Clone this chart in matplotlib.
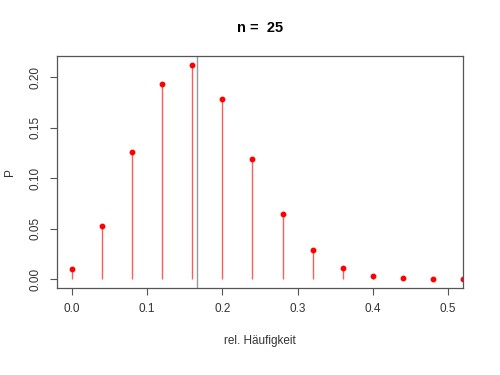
import matplotlib.pyplot as plt
import numpy as np

plt.rcParams['font.family'] = ['Liberation Sans', 'DejaVu Sans']

n = 25
p = 1 / 6
rel = np.array([0.00, 0.04, 0.08, 0.12, 0.16, 0.20, 0.24, 0.28, 0.32, 0.36, 0.40, 0.44, 0.48, 0.52])
prob = np.array([0.0105, 0.0524, 0.1258, 0.1929, 0.2122, 0.1782, 0.1188, 0.0645, 0.0290,
                 0.0110, 0.0035, 0.0010, 0.0002, 0.00004])

fig = plt.figure(figsize=(5, 3.75), dpi=100)
ax = fig.add_axes([0.114, 0.232, 0.812, 0.619])

ax.vlines(rel, 0, prob, color='#ff4040', lw=1.0, alpha=0.85)
ax.plot(rel, prob, 'o', color='red', ms=3.2, mec='red')
ax.axvline(p, color='#999999', lw=1.0)

ax.set_xlim(-0.02, 0.52)
ax.set_ylim(-0.0085, 0.221)
ax.set_xticks([0.0, 0.1, 0.2, 0.3, 0.4, 0.5])
ax.set_xticklabels(['0.0', '0.1', '0.2', '0.3', '0.4', '0.5'])
ax.set_yticks([0.00, 0.05, 0.10, 0.15, 0.20])
ax.set_yticklabels(['0.00', '0.05', '0.10', '0.15', '0.20'], rotation=90, va='center')

for s in ax.spines.values():
    s.set_color('#555555')
    s.set_linewidth(0.9)
ax.tick_params(direction='out', length=5, width=0.8, color='#555555',
               labelsize=8.5, labelcolor='#333333', pad=6)

ax.set_xlabel('rel. Häufigkeit', fontsize=8.5, color='#333333', labelpad=14)
ax.set_ylabel('P', fontsize=8.5, color='#333333', labelpad=10)
ax.set_title('n =  25', fontsize=10.5, fontweight='bold', pad=17)

fig.savefig('out.png', dpi=100)
